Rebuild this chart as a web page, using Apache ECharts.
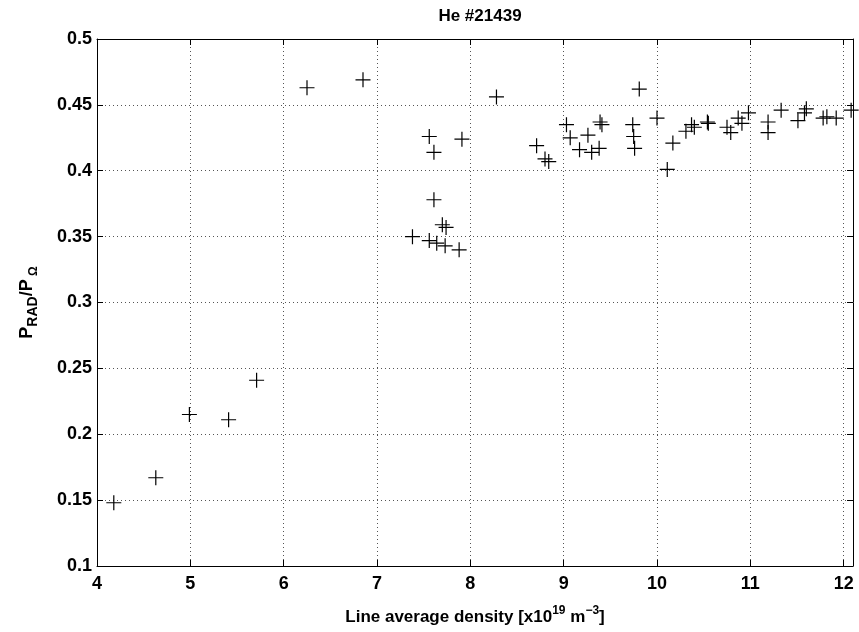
<!DOCTYPE html>
<html><head><meta charset="utf-8">
<script src="https://cdn.jsdelivr.net/npm/echarts@6/dist/echarts.min.js"></script>
<style>html,body{margin:0;padding:0;background:#fff}#c{width:859px;height:632px}</style>
</head><body><div id="c"></div>
<script>
const chartTitle = 'He #21439';
const xTicks = [4, 5, 6, 7, 8, 9, 10, 11, 12];
const yTicks = [0.1, 0.15, 0.2, 0.25, 0.3, 0.35, 0.4, 0.45, 0.5];
const density = [4.18, 4.63, 4.99, 5.41, 5.71, 6.25, 6.85, 7.38, 7.56, 7.61, 7.61, 7.70, 7.74, 7.56, 7.64, 7.73, 7.88, 7.91, 8.28, 8.71, 8.80, 8.84, 9.03, 9.07, 9.17, 9.26, 9.30, 9.38, 9.39, 9.41, 9.74, 9.75, 9.76, 9.81, 10.00, 10.11, 10.17, 10.31, 10.37, 10.40, 10.54, 10.55, 10.75, 10.79, 10.87, 10.91, 10.98, 11.19, 11.19, 11.33, 11.51, 11.58, 11.60, 11.78, 11.82, 11.92, 12.08];
const ratio = [0.148, 0.167, 0.215, 0.211, 0.241, 0.463, 0.469, 0.350, 0.426, 0.414, 0.378, 0.359, 0.357, 0.347, 0.345, 0.343, 0.340, 0.424, 0.456, 0.419, 0.409, 0.407, 0.435, 0.425, 0.416, 0.427, 0.414, 0.417, 0.437, 0.435, 0.435, 0.426, 0.417, 0.462, 0.440, 0.401, 0.421, 0.430, 0.435, 0.433, 0.437, 0.436, 0.433, 0.429, 0.440, 0.436, 0.444, 0.437, 0.429, 0.446, 0.438, 0.444, 0.447, 0.440, 0.441, 0.440, 0.446];

const FONT = 'Liberation Sans';
const pts = density.map((d, i) => [d, ratio[i]]);
const isTick = (arr, v) => arr.some(t => Math.abs(t - v) < 1e-9);
const grid = {left: 97, top: 39, right: 6, bottom: 66, show: false};
const gridLine = {show: true, lineStyle: {color: '#555', width: 1, type: [1, 3]}};
const axLine = {show: true, onZero: false, lineStyle: {color: '#000', width: 1}};
const tick = {show: true, inside: true, length: 6, lineStyle: {color: '#000'}};

const chart = echarts.init(document.getElementById('c'), null, {renderer: 'canvas'});
chart.setOption({
  animation: false,
  backgroundColor: '#fff',
  title: {text: chartTitle, left: 475, top: 3, textAlign: 'center',
    textStyle: {fontFamily: FONT, fontSize: 17, fontWeight: 'bold', color: '#000'}},
  grid: grid,
  xAxis: [{
    type: 'value', min: 4, max: 12.1, interval: 1, position: 'bottom',
    axisLine: axLine, axisTick: tick, splitLine: gridLine,
    axisLabel: {show: true, margin: 9, color: '#000', fontFamily: FONT, fontSize: 18, fontWeight: 'bold',
      showMaxLabel: true, formatter: v => isTick(xTicks, v) ? String(v) : ''},
    name: '{m|Line average density [x10}{s|19}{m| m}{s|−3}{m|]}',
    nameLocation: 'middle', nameGap: 39,
    nameTextStyle: {rich: {
      m: {fontFamily: FONT, fontSize: 17, fontWeight: 'bold', color: '#000', lineHeight: 24},
      s: {fontFamily: FONT, fontSize: 12, fontWeight: 'bold', color: '#000', lineHeight: 12, verticalAlign: 'top'}
    }}
  }, {
    type: 'value', min: 4, max: 12.1, interval: 1, position: 'top',
    axisLine: axLine, axisTick: tick, splitLine: {show: false}, axisLabel: {show: false}
  }],
  yAxis: [{
    type: 'value', min: 0.1, max: 0.5, interval: 0.05, position: 'left',
    axisLine: axLine, axisTick: tick, splitLine: gridLine,
    axisLabel: {show: true, margin: 5, color: '#000', fontFamily: FONT, fontSize: 18, fontWeight: 'bold'},
    name: '{m|P}{s|RAD}{m|/P}{o| Ω}',
    nameLocation: 'middle', nameRotate: 90, nameGap: 57,
    nameTextStyle: {rich: {
      m: {fontFamily: FONT, fontSize: 18, fontWeight: 'bold', color: '#000', lineHeight: 26},
      s: {fontFamily: FONT, fontSize: 14, fontWeight: 'bold', color: '#000', lineHeight: 14, verticalAlign: 'bottom'},
      o: {fontFamily: FONT, fontSize: 12, fontWeight: 'bold', color: '#000', lineHeight: 14, verticalAlign: 'bottom'}
    }}
  }, {
    type: 'value', min: 0.1, max: 0.5, interval: 0.05, position: 'right',
    axisLine: axLine, axisTick: tick, splitLine: {show: false}, axisLabel: {show: false}
  }],
  series: [{
    type: 'scatter', data: pts, xAxisIndex: 0, yAxisIndex: 0,
    symbol: 'path://M0,7H14M7,0V14', symbolSize: 15,
    itemStyle: {color: 'rgba(0,0,0,0)', borderColor: '#000', borderWidth: 1.2, opacity: 1},
    emphasis: {disabled: true}
  }]
});
</script></body></html>
